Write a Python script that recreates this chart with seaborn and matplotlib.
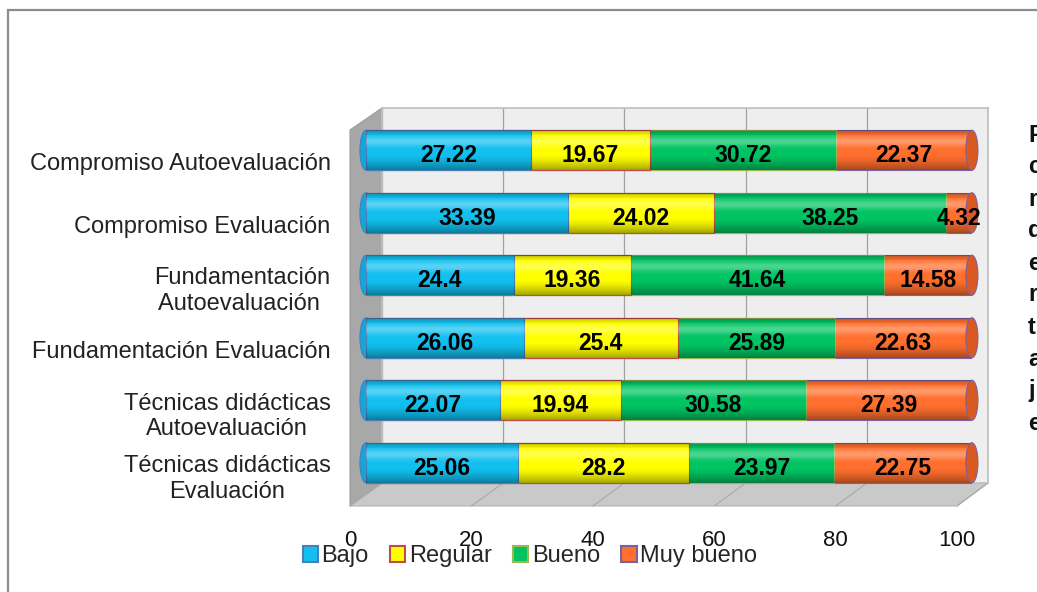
import numpy as np
import pandas as pd
import matplotlib
matplotlib.use('Agg')
import matplotlib.pyplot as plt
from matplotlib.patches import Ellipse, Patch, Polygon
import seaborn as sns

# ── Data ──────────────────────────────────────────────────
categories = ['Compromiso Autoevaluación', 'Compromiso Evaluación',
              'Fundamentación Autoevaluación', 'Fundamentación Evaluación',
              'Técnicas didácticas Autoevaluación', 'Técnicas didácticas Evaluación']
tick_labels = ['Compromiso Autoevaluación', 'Compromiso Evaluación',
               'Fundamentación\nAutoevaluación ', 'Fundamentación Evaluación',
               'Técnicas didácticas\nAutoevaluación', 'Técnicas didácticas\nEvaluación']
series = ['Bajo', 'Regular', 'Bueno', 'Muy bueno']
bajo = [27.22, 33.39, 24.4, 26.06, 22.07, 25.06]
regular = [19.67, 24.02, 19.36, 25.4, 19.94, 28.2]
bueno = [30.72, 38.25, 41.64, 25.89, 30.58, 23.97]
muy_bueno = [22.37, 4.32, 14.58, 22.63, 27.39, 22.75]
x_ticks = [0, 20, 40, 60, 80, 100]
side_title = 'Pcrdertaje'

colors = ['#12c0f0', '#ffff00', '#00c462', '#ff6f2e']
edges = ['#4a7ebb', '#be4b48', '#98b954', '#7d60a0']

# ── Setup ─────────────────────────────────────────────────
sns.set_theme(style='white')
plt.rcParams['font.family'] = ['Liberation Sans', 'DejaVu Sans']

W, H = 1037, 592
fig = plt.figure(figsize=(W / 100, H / 100), dpi=100)


def box(left, top, right, bottom):
    return [left / W, 1 - bottom / H, (right - left) / W, (bottom - top) / H]


# background: frame, left wall, floor
ax_bg = fig.add_axes([0, 0, 1, 1], zorder=0)
ax_bg.set_xlim(0, W)
ax_bg.set_ylim(H, 0)
ax_bg.axis('off')
ax_bg.plot([8, 8], [10, H], color='#8c8c8c', lw=1.6)
ax_bg.plot([8, W], [10, 10], color='#8c8c8c', lw=1.6)
ax_bg.add_patch(Polygon([(350, 130), (382, 108), (382, 483), (350, 506)],
                        closed=True, fc='#a8a8a8', ec='#9a9a9a', lw=0.8))
ax_bg.add_patch(Polygon([(350, 506), (382, 483), (988, 483), (957, 506)],
                        closed=True, fc='#c9c9c9', ec='#b5b5b5', lw=0.8))
for t in x_ticks:
    ax_bg.plot([382 + t * 6.06, 350 + t * 6.07], [483, 506],
               color='#a8a8a8', lw=0.8)

# back wall with gridlines
ax_back = fig.add_axes(box(382, 108, 988, 483), zorder=1)
ax_back.set_facecolor('#eeeeee')
ax_back.set_xlim(0, 100)
ax_back.set_xticks(x_ticks)
ax_back.set_yticks([])
ax_back.grid(axis='x', color='#a0a0a0', lw=0.9)
ax_back.tick_params(labelbottom=False, length=0)
for s in ax_back.spines.values():
    s.set_color('#c0c0c0')

# front plane: category and value tick labels
ax_front = fig.add_axes(box(350, 130, 957, 506), zorder=2)
ax_front.set_facecolor('none')
ax_front.set_xlim(0, 100)
ax_front.set_ylim(len(categories) - 0.5, -0.5)
ax_front.set_xticks(x_ticks)
ax_front.set_yticks(range(len(categories)))
ax_front.set_yticklabels(tick_labels, fontsize=17, color='#222222')
ax_front.set_xticklabels([str(t) for t in x_ticks], fontsize=16, color='#111111')
ax_front.tick_params(axis='y', length=0, pad=14)
ax_front.tick_params(axis='x', length=0, pad=17)
for lab in ax_front.get_yticklabels():
    lab.set_multialignment('center')
for s in ax_front.spines.values():
    s.set_visible(False)

# bars (middle plane) - stacked by layering cumulative sums
ax = fig.add_axes(box(366, 119, 972, 494), zorder=3)
ax.set_facecolor('none')
values = np.array([bajo, regular, bueno, muy_bueno])
cum = np.cumsum(values, axis=0)
for i in range(len(series) - 1, -1, -1):
    df = pd.DataFrame({'cat': categories, 'val': cum[i]})
    sns.barplot(data=df, x='val', y='cat', orient='h', color=colors[i],
                saturation=1, width=0.64, edgecolor=edges[i], linewidth=0.8,
                ax=ax)

# cylinder shading overlay (white highlight near top, dark at the edges)
prof = np.linspace(0, 1, 64)
alpha = (0.22 * np.exp(-((prof - 0.0) / 0.08) ** 2)
         + 0.30 * np.exp(-((prof - 0.28) / 0.12) ** 2)
         + 0.35 * np.clip((prof - 0.6) / 0.4, 0, 1) ** 1.5)
shade = np.zeros((64, 1, 4))
shade[:, 0, :3] = np.where(((prof > 0.12) & (prof < 0.5))[:, None], 1.0, 0.0)
shade[:, 0, 3] = alpha
for j in range(len(categories)):
    ax.imshow(shade, extent=[0, cum[-1][j], j + 0.32, j - 0.32],
              aspect='auto', interpolation='bilinear', zorder=2)
    ax.add_patch(Ellipse((0, j), 2.0, 0.64, fc='#0fa8d8', ec=edges[0],
                         lw=0.8, zorder=0.5, clip_on=False))
    ax.add_patch(Ellipse((cum[-1][j], j), 2.0, 0.64, fc='#d85a22',
                         ec=edges[3], lw=0.8, zorder=3, clip_on=False))
for i in range(len(series)):
    for j in range(len(categories)):
        ax.text(cum[i][j] - values[i][j] / 2, j + 0.09, f'{values[i][j]:g}',
                ha='center', va='center', fontsize=16.5, fontweight='bold',
                color='black', zorder=4)
ax.set_xlim(0, 100)
ax.set_ylim(len(categories) - 0.5, -0.5)
ax.set_xlabel('')
ax.set_ylabel('')
ax.set_xticks([])
ax.set_yticks([])
for s in ax.spines.values():
    s.set_visible(False)

# legend
handles = [Patch(fc=c, ec=e, lw=1.5) for c, e in zip(colors, edges)]
fig.legend(handles, series, loc='center', bbox_to_anchor=(530 / W, 1 - 556 / H),
           ncol=4, frameon=False, fontsize=17, handlelength=0.65,
           handleheight=0.65, handletextpad=0.15, columnspacing=0.9)

# side title, cut off by the right edge as in the original
for k, ch in enumerate(side_title):
    fig.text(1028 / W, 1 - (135 + 32 * k) / H, ch, ha='left', va='center',
             fontsize=17, fontweight='bold', color='#111111')

plt.savefig('out.png', dpi=100)
plt.close()
